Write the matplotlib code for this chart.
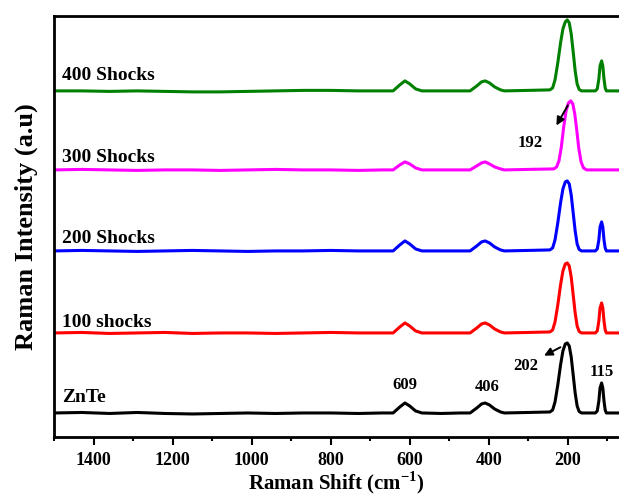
import matplotlib.pyplot as plt
from matplotlib.ticker import MultipleLocator

plt.rcParams['font.family'] = 'Liberation Serif'
plt.rcParams['font.weight'] = 'bold'
plt.rcParams['mathtext.fontset'] = 'custom'
plt.rcParams['mathtext.rm'] = 'Liberation Serif:bold'
plt.rcParams['mathtext.bf'] = 'Liberation Serif:bold'

# Raman shift positions (cm-1) of the polyline points
shift = [1500, 1430, 1360, 1290, 1220, 1150, 1080, 1010, 940, 870,
         800, 730, 670, 642, 625, 612, 600, 585, 569, 520,
         470, 447, 430, 418, 409, 398, 385, 370, 360, 300,
         245, 238, 232, 225, 218, 212, 206, 201, 196, 191,
         186, 181, 176, 171, 165, 145, 130, 125, 121, 118,
         114, 111, 108, 105, 102, 90, 70]

znte = [24, 24.5, 23.5, 24.5, 23.5, 23, 23.5, 24, 23.5, 24,
        24, 23.5, 24, 24, 30, 34, 31, 26, 24, 23.5,
        24, 24, 29, 33, 34, 32, 28, 25, 24, 24.5,
        25, 27, 35, 52, 72, 86, 93, 94, 91, 80,
        62, 44, 31, 25.5, 24, 24, 24, 26, 36, 49,
        54, 49, 36, 27, 24, 24, 24]

shock100 = [104, 104.5, 103.5, 104, 104.5, 103.5, 104, 104, 103.5, 104,
            104.5, 104, 104, 104, 110, 114, 111, 106, 104, 104,
            104, 104, 109, 113, 114, 112, 108, 105, 104, 104.5,
            105, 107, 115, 132, 152, 166, 173, 174, 171, 160,
            142, 124, 111, 105.5, 104, 104, 104, 106, 116, 129,
            134, 129, 116, 107, 104, 104, 104]

shock200 = [186, 186.5, 186, 185.5, 186, 186.5, 186, 185.5, 186, 186,
            186.5, 186, 186, 186, 192, 196, 193, 188, 186, 186,
            186, 186, 191, 195, 196, 194, 190, 187, 186, 186.5,
            187, 189, 197, 214, 234, 248, 255, 256, 253, 242,
            224, 206, 193, 187.5, 186, 186, 186, 188, 197, 210,
            215, 210, 197, 189, 186, 186, 186]

shock400 = [346, 346, 345.5, 346, 345.5, 345, 345, 345.5, 346, 346.5,
            346.5, 346, 346, 346, 352, 356, 353, 348, 346, 346,
            346, 346, 351, 355, 356, 354, 350, 347, 346, 346.5,
            347, 349, 357, 374, 394, 408, 415, 417, 414, 403,
            385, 366, 353, 347.5, 346, 346, 346, 348, 358, 371,
            376, 371, 358, 349, 346, 346, 346]

# the 300 shocks spectrum has its main band shifted to 192 and no 115 band
shift_300 = [1500, 1430, 1360, 1290, 1220, 1150, 1080, 1010, 940, 870,
             800, 730, 670, 642, 625, 612, 600, 585, 569, 520,
             470, 447, 430, 418, 409, 398, 385, 370, 360, 300,
             235, 228, 222, 216, 210, 204, 198, 192, 187, 182,
             177, 172, 166, 160, 152, 130, 100, 70]

shock300 = [267, 267.5, 267, 266.5, 267, 267, 266.5, 267, 267.5, 267,
            267, 266.5, 267, 267, 272, 275, 273, 269, 267, 267,
            267, 267, 271, 274, 275, 273, 270, 268, 267, 267.5,
            268, 270, 276, 290, 310, 326, 334, 336, 333, 323,
            307, 289, 275, 269, 267, 267, 267, 267]

labels = ['ZnTe', '100 shocks', '200 Shocks', '300 Shocks', '400 Shocks']
label_y = [39, 114, 198, 279, 361]

fig = plt.figure(figsize=(6.19, 4.96), dpi=100)
ax = fig.add_axes([0.0876, 0.119, 0.9124, 0.849])

ax.plot(shift, znte, color='black', lw=2.2)
ax.plot(shift, shock100, color='red', lw=2.2)
ax.plot(shift, shock200, color='blue', lw=2.2)
ax.plot(shift_300, shock300, color='magenta', lw=2.2)
ax.plot(shift, shock400, color='green', lw=2.2)

for lab, y in zip(labels, label_y):
    ax.text(1480, y, lab, fontsize=14, fontweight='bold', va='center')

# peak position labels
ax.text(612, 52, '609', fontsize=12, fontweight='bold', ha='center', va='center')
ax.text(405, 50, '406', fontsize=12, fontweight='bold', ha='center', va='center')
ax.text(305, 71, '202', fontsize=12, fontweight='bold', ha='center', va='center')
ax.text(113, 65, '115', fontsize=12, fontweight='bold', ha='center', va='center')
ax.text(295, 294, '192', fontsize=12, fontweight='bold', ha='center', va='center')

ax.annotate('', xy=(266, 80), xytext=(212, 91),
            arrowprops=dict(arrowstyle='-|>', color='black', lw=1.4, mutation_scale=12))
ax.annotate('', xy=(232, 309), xytext=(196, 334),
            arrowprops=dict(arrowstyle='-|>', color='black', lw=1.4, mutation_scale=12))

ax.set_xlim(1500, 70)
ax.set_ylim(0, 421)
ax.xaxis.set_major_locator(MultipleLocator(200))
ax.xaxis.set_minor_locator(MultipleLocator(100))
ax.tick_params(axis='x', which='major', direction='out', length=6, width=1.5,
               labelsize=13, pad=5)
ax.tick_params(axis='x', which='minor', direction='out', length=3, width=1.5)
ax.set_yticks([])
for lbl in ax.get_xticklabels():
    lbl.set_fontweight('bold')

for side in ['left', 'bottom', 'top']:
    ax.spines[side].set_linewidth(2)
ax.spines['right'].set_visible(False)

ax.set_xlabel('Raman Shift (cm$^{-1}$)', fontsize=15, fontweight='bold', labelpad=0)
ax.set_ylabel('Raman Intensity (a.u)', fontsize=19, fontweight='bold', labelpad=12)

fig.savefig('out.png', dpi=100)
